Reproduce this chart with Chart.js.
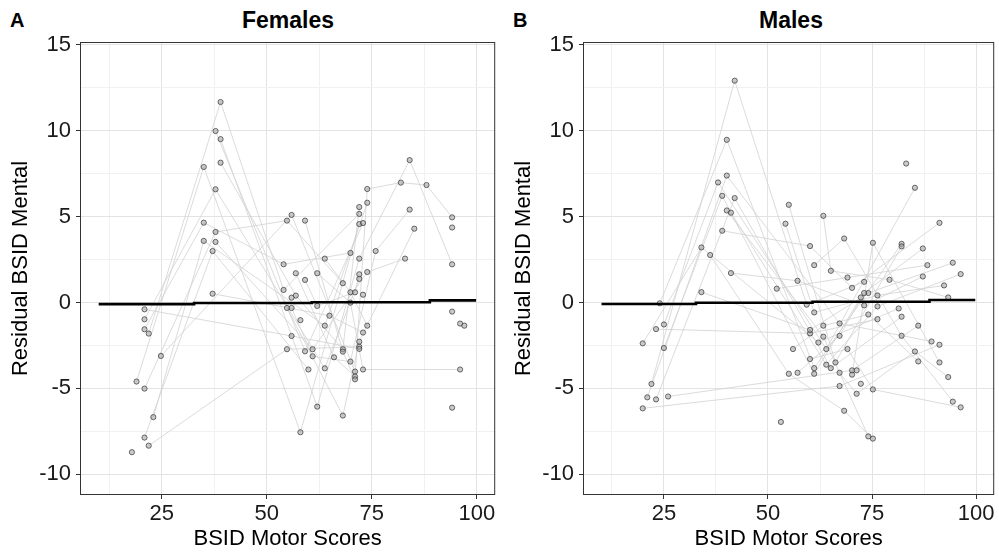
<!DOCTYPE html>
<html>
<head>
<meta charset="utf-8">
<script src="https://cdn.jsdelivr.net/npm/chart.js@4.4.1/dist/chart.umd.min.js"></script>
<style>
  body { margin: 0; background: #fff; width: 999px; height: 552px; overflow: hidden; position: relative;
         font-family: 'Liberation Sans', Arial, sans-serif; }
  canvas { position: absolute; top: 0; }
  #cA { left: 0; }
  #cB { left: 503px; }
  .tag, .ttl { position: absolute; top: 10px; font-weight: bold; font-size: 20px; line-height: 20px; color: #000; }
  .ttl { text-align: center; width: 416px; font-size: 23px; line-height: 23px; top: 9px; }
</style>
</head>
<body>
<div class="tag" style="left:10px">A</div>
<div class="ttl" style="left:80px">Females</div>
<div class="tag" style="left:513px">B</div>
<div class="ttl" style="left:583px">Males</div>
<canvas id="cA" width="500" height="552"></canvas>
<canvas id="cB" width="496" height="552"></canvas>
<script>
// tick positions (major + minor gridlines) and labelled values
var xTicks = [12.5, 25, 37.5, 50, 62.5, 75, 87.5, 100];
var xLabels = [25, 50, 75, 100];
var yTicks = [-10, -7.5, -5, -2.5, 0, 2.5, 5, 7.5, 10, 12.5, 15];
var yLabels = [-10, -5, 0, 5, 10, 15];

// fitted line (model prediction)
var fitX = [10, 32.7, 32.7, 60.7, 60.7, 88.8, 88.8, 99.8];
var femalesFit = [-0.1, -0.1, -0.03, -0.03, 0.01, 0.01, 0.12, 0.12];
var malesFit = [-0.09, -0.09, -0.02, -0.02, 0.04, 0.04, 0.14, 0.14];

// one path per child: [motor score, residual mental score]
var femalesPaths = [
  [[21.9,-8.33],[54.8,-2.72],[72.0,-2.57]],
  [[20.9,-7.86],[37.1,2.99],[59.9,-3.9]],
  [[23.0,-6.67],[35.0,3.58],[63.8,-1.35],[73.9,5.8]],
  [[19.0,-4.6],[35.0,7.88],[58.0,-7.55],[72.0,4.56]],
  [[20.9,-5.01],[37.8,4.1],[54.8,4.76],[68.1,1.12]],
  [[20.9,-0.4],[55.9,-1.95],[72.0,-2.7]],
  [[20.9,-0.98],[37.8,6.58],[63.8,-3.83],[72.0,1.37]],
  [[20.9,-1.56],[35.0,4.64],[54.0,2.22],[69.9,2.88]],
  [[21.9,-1.81],[39.0,11.66],[54.0,0.73],[72.0,5.15]],
  [[24.8,-3.11],[55.9,5.09],[71.0,-4.02]],
  [[37.8,9.97],[59.1,-2.84],[72.9,4.62]],
  [[39.0,9.5],[62.0,-6.06],[72.0,2.55],[84.0,8.28],[94.1,2.22]],
  [[39.0,8.13],[56.9,0.4],[68.1,-2.72],[72.0,5.55]],
  [[37.8,3.52],[60.9,-2.72],[73.9,1.77],[82.9,2.55]],
  [[37.1,0.51],[64.9,-0.77],[72.9,-1.75]],
  [[54.8,-0.32],[68.1,-6.58],[72.0,-2.28],[85.1,4.29]],
  [[55.9,-0.32],[60.9,-3.13],[69.9,-3.44],[75.9,2.99],[84.0,5.4]],
  [[56.9,1.7],[66.0,-3.19],[71.0,-4.31],[73.9,6.6],[81.9,6.97],[88.0,6.83],[94.1,4.95]],
  [[59.1,4.76],[68.1,-2.86],[71.0,-4.47]],
  [[62.0,1.7],[69.9,-0.01],[72.9,-3.9],[96.0,-3.9]],
  [[63.8,2.55],[69.9,0.59],[73.9,-1.35]],
  [[59.1,1.31],[62.0,-0.2],[71.0,0.59],[72.0,1.64]]
];
var femalesSingles = [[17.9,-8.71],[55.9,0.28],[58.0,-1.03],[72.9,0.45],[94.1,4.36],
  [94.1,-0.53],[96.0,-1.23],[97.0,-1.35],[94.1,-6.12]];

var malesPaths = [
  [[22.0,-4.74],[42.0,12.9],[59.3,-0.13],[73.1,1.2]],
  [[19.9,-2.38],[34.0,3.2],[62.1,-2.33],[81.4,-0.35]],
  [[24.0,-0.05],[40.1,9.46],[61.1,-3.82],[82.1,3.41]],
  [[25.0,-1.28],[38.0,6.98],[64.0,-2.71],[85.3,6.67]],
  [[23.1,-1.55],[60.1,-1.8],[76.3,-0.97]],
  [[25.0,-2.65],[39.0,6.2],[61.1,-4.15],[72.3,0.29]],
  [[21.0,-5.52],[40.1,7.38],[67.2,-1.22],[89.3,-2.27]],
  [[23.1,-5.64],[42.0,6.07],[65.1,-3.82],[82.1,-0.83]],
  [[26.0,-5.47],[70.2,-3.95],[86.1,-1.35]],
  [[19.9,-6.16],[67.2,-4.86],[91.2,-2.46]],
  [[34.0,0.6],[60.1,-1.6],[74.1,0.55],[94.4,2.31]],
  [[36.1,2.76],[55.0,-4.15],[68.3,-6.3],[75.2,-7.92]],
  [[39.0,4.17],[60.1,3.28],[70.2,0.85],[91.2,4.63]],
  [[41.1,1.71],[57.1,1.26],[73.1,-0.17],[87.2,1.51]],
  [[40.1,5.35],[63.3,-1.99],[74.1,-7.79]],
  [[41.1,5.22],[64.0,-3.62],[76.3,-0.23],[96.3,1.65]],
  [[52.1,0.8],[69.1,1.45],[88.3,2.17]],
  [[55.0,5.68],[66.2,-3.49],[82.1,3.26]],
  [[63.3,5.04],[65.1,1.84],[79.2,1.32],[93.3,0.29]],
  [[54.2,4.58],[61.1,-0.58],[76.3,0.41],[92.3,0.99]],
  [[61.1,2.17],[68.3,3.72],[82.1,-1.94],[94.4,-5.77]],
  [[56.0,-2.71],[63.3,-1.35],[74.1,-0.7],[86.1,-3.43]],
  [[57.1,-4.09],[67.2,-1.94],[73.1,0.55],[87.2,3.14]],
  [[60.1,-3.29],[69.1,-2.71],[75.2,-5.06],[96.3,-6.1]],
  [[67.2,-4.09],[71.3,-5.31],[85.3,-2.85],[93.3,-4.34]],
  [[70.2,-4.2],[75.2,3.47],[91.2,-3.49]]
];
var malesSingles = [[71.3,-3.95],[72.3,-4.73],[53.1,-6.95],[83.2,8.08]];

var FONT = "'Liberation Sans', Arial, sans-serif";

function toXY(p) { return { x: p[0], y: p[1] }; }

function buildDatasets(paths, singles, fitY) {
  var ds = [];
  paths.forEach(function (p) {
    ds.push({ data: p.map(toXY), showLine: true, borderColor: '#d2d2d2', borderWidth: 0.8,
              pointRadius: 0, order: 3 });
  });
  var all = [].concat.apply([], paths).concat(singles);
  ds.push({ data: all.map(toXY), showLine: false, pointRadius: 2.6,
            pointBackgroundColor: 'rgba(160,160,160,0.55)', pointBorderColor: 'rgba(55,55,55,0.9)',
            pointBorderWidth: 0.8, order: 2 });
  ds.push({ data: fitX.map(function (x, i) { return { x: x, y: fitY[i] }; }), showLine: true,
            borderColor: '#000', borderWidth: 2.6, pointRadius: 0, order: 1 });
  return ds;
}

var frame = {
  id: 'frame',
  afterDraw: function (chart) {
    var a = chart.chartArea, c = chart.ctx;
    c.save();
    c.strokeStyle = '#333';
    c.lineWidth = 1;
    c.strokeRect(a.left + 0.5, a.top + 0.5, a.right - a.left - 1, a.bottom - a.top - 1);
    c.restore();
  }
};

function gridOpts(labels) {
  return {
    color: function (c) { return labels.indexOf(c.tick && c.tick.value) >= 0 ? '#e3e3e3' : '#f1f1f1'; },
    lineWidth: 1,
    tickLength: 4,
    tickColor: function (c) { return labels.indexOf(c.tick && c.tick.value) >= 0 ? '#333' : 'rgba(0,0,0,0)'; }
  };
}

function makeChart(id, paths, singles, fitY, padRight) {
  return new Chart(document.getElementById(id), {
    type: 'scatter',
    data: { datasets: buildDatasets(paths, singles, fitY) },
    options: {
      responsive: false,
      animation: false,
      events: [],
      layout: { padding: { top: 42, right: padRight, bottom: 0, left: 0 } },
      plugins: { legend: { display: false }, tooltip: { enabled: false } },
      scales: {
        x: {
          type: 'linear', min: 5.55, max: 104.35,
          afterBuildTicks: function (s) { s.ticks = xTicks.map(function (v) { return { value: v }; }); },
          afterFit: function (s) { s.height = 57; },
          border: { display: false },
          grid: gridOpts(xLabels),
          ticks: {
            autoSkip: false, maxRotation: 0, padding: 2, color: '#1a1a1a',
            font: { family: FONT, size: 22 },
            callback: function (v) { return xLabels.indexOf(v) >= 0 ? String(v) : ''; }
          },
          title: { display: true, text: 'BSID Motor Scores', color: '#000',
                   font: { family: FONT, size: 22 }, padding: { top: 0, bottom: 0 } }
        },
        y: {
          type: 'linear', min: -11.2, max: 15.15,
          afterBuildTicks: function (s) { s.ticks = yTicks.map(function (v) { return { value: v }; }); },
          afterFit: function (s) { s.width = 80; },
          border: { display: false },
          grid: gridOpts(yLabels),
          ticks: {
            autoSkip: false, padding: 5, color: '#1a1a1a',
            font: { family: FONT, size: 22 },
            callback: function (v) { return yLabels.indexOf(v) >= 0 ? String(v) : ''; }
          },
          title: { display: true, text: 'Residual BSID Mental', color: '#000',
                   font: { family: FONT, size: 22 }, padding: { top: 8, bottom: 0 } }
        }
      }
    },
    plugins: [frame]
  });
}

makeChart('cA', femalesPaths, femalesSingles, femalesFit, 4);
makeChart('cB', malesPaths, malesSingles, malesFit, 0);
</script>
</body>
</html>
